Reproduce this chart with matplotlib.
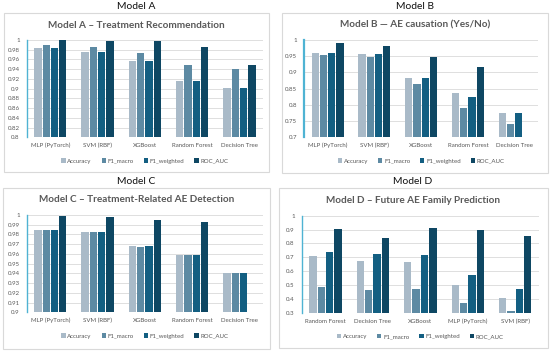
import matplotlib
matplotlib.use("Agg")
import matplotlib.pyplot as plt
from matplotlib.patches import Rectangle
from matplotlib.ticker import FuncFormatter, MultipleLocator
import numpy as np

plt.rcParams['font.family'] = ['Lato', 'DejaVu Sans']

series = ["Accuracy", "F1_macro", "F1_weighted", "ROC_AUC"]
colors = ["#A9BAC8", "#5D8AA3", "#135F82", "#0E4763"]

panel_titles = ["Model A", "Model B", "Model C", "Model D"]
chart_titles = ["Model A \u2013 Treatment Recommendation",
                "Model B \u2014 AE causation (Yes/No)",
                "Model C \u2013 Treatment-Related AE Detection",
                "Model D \u2013 Future AE Family Prediction"]

cats_A = ["MLP (PyTorch)", "SVM (RBF)", "XGBoost", "Random Forest", "Decision Tree"]
vals_A = {
    "Accuracy":    [0.983, 0.975, 0.956, 0.916, 0.901],
    "F1_macro":    [0.990, 0.985, 0.974, 0.949, 0.940],
    "F1_weighted": [0.983, 0.975, 0.956, 0.916, 0.901],
    "ROC_AUC":     [1.000, 0.997, 0.997, 0.986, 0.949],
}
cats_B = ["MLP (PyTorch)", "SVM (RBF)", "XGBoost", "Random Forest", "Decision Tree"]
vals_B = {
    "Accuracy":    [0.961, 0.957, 0.882, 0.837, 0.774],
    "F1_macro":    [0.955, 0.949, 0.863, 0.789, 0.741],
    "F1_weighted": [0.961, 0.957, 0.882, 0.825, 0.774],
    "ROC_AUC":     [0.992, 0.981, 0.947, 0.918, 0.702],
}
cats_C = ["MLP (PyTorch)", "SVM (RBF)", "XGBoost", "Random Forest", "Decision Tree"]
vals_C = {
    "Accuracy":    [0.9846, 0.9829, 0.9678, 0.9592, 0.9408],
    "F1_macro":    [0.9842, 0.9829, 0.9675, 0.9592, 0.9401],
    "F1_weighted": [0.9846, 0.9829, 0.9678, 0.9592, 0.9408],
    "ROC_AUC":     [0.9986, 0.9976, 0.9945, 0.9925, 0.9007],
}
cats_D = ["Random Forest", "Decision Tree", "XGBoost", "MLP (PyTorch)", "SVM (RBF)"]
vals_D = {
    "Accuracy":    [0.707, 0.672, 0.667, 0.504, 0.406],
    "F1_macro":    [0.487, 0.463, 0.475, 0.372, 0.314],
    "F1_weighted": [0.739, 0.724, 0.715, 0.576, 0.475],
    "ROC_AUC":     [0.902, 0.842, 0.914, 0.895, 0.856],
}
ylims = [(0.8, 1.0, 0.02), (0.7, 1.0, 0.05), (0.9, 1.0, 0.01), (0.3, 1.0, 0.1)]

W, H = 550, 351
fig = plt.figure(figsize=(W / 100, H / 100), dpi=100)

def fx(x): return x / W
def fy(y): return 1 - y / H

boxes = [(3.5, 12.7, 268.5, 171.7), (282.3, 12.7, 547.7, 172.7),
         (3.0, 187.7, 269.5, 348.5), (278.5, 188.0, 547.7, 347.5)]
axes_px = [(26.7, 40.0, 263.0, 137.3), (304.3, 40.0, 538.0, 137.3),
           (26.7, 215.0, 263.0, 312.3), (301.7, 215.7, 539.0, 313.0)]
all_cats = [cats_A, cats_B, cats_C, cats_D]
all_vals = [vals_A, vals_B, vals_C, vals_D]
txt = "#595959"

for i in range(4):
    bx0, by0, bx1, by1 = boxes[i]
    fig.patches.append(Rectangle((fx(bx0), fy(by1)), fx(bx1 - bx0), (by1 - by0) / H,
                                 transform=fig.transFigure, fill=False,
                                 edgecolor="#D9D9D9", lw=0.8))
    fig.text(fx((bx0 + bx1) / 2), fy(by0 - 6.2), panel_titles[i], ha="center",
             va="center", fontsize=7.4, color="#111111")
    fig.text(fx((bx0 + bx1) / 2), fy(by0 + 12.3), chart_titles[i], ha="center",
             va="center", fontsize=7.2, fontweight="bold", color=txt)

    ax0, at, ax1, ab = axes_px[i]
    ax = fig.add_axes([fx(ax0), fy(ab), fx(ax1 - ax0), (ab - at) / H])
    cats = all_cats[i]
    vals = all_vals[i]
    x = np.arange(len(cats))
    bw = 0.155
    step = 0.176
    for j, s in enumerate(series):
        ax.bar(x + (j - 1.5) * step, vals[s], width=bw, color=colors[j],
               label=s, zorder=3)
    lo, hi, st = ylims[i]
    ax.set_ylim(lo, hi)
    ax.set_xlim(-0.5, len(cats) - 0.5)
    ax.yaxis.set_major_locator(MultipleLocator(st))
    ax.yaxis.set_major_formatter(FuncFormatter(lambda v, p: "%g" % round(v, 4)))
    ax.grid(axis="y", color="#D9D9D9", lw=0.6, zorder=0)
    for sp in ["top", "right", "bottom"]:
        ax.spines[sp].set_visible(False)
    ax.spines["left"].set_color("#4FB3D3")
    ax.spines["left"].set_linewidth(1.0 if i != 1 else 1.6)
    ax.set_xticks(x)
    ax.set_xticklabels(cats)
    ax.tick_params(axis="both", length=0, labelsize=4.4, labelcolor=txt)
    ax.tick_params(axis="x", pad=4)
    ax.tick_params(axis="y", pad=5)
    ax.set_facecolor("none")
    leg = ax.legend(loc="center", bbox_to_anchor=(0.5, -23.7 / (ab - at)),
                    ncol=4, frameon=False, fontsize=4.4, handlelength=0.7,
                    handleheight=0.7, handletextpad=0.3, columnspacing=1.6)
    for t in leg.get_texts():
        t.set_color(txt)

fig.savefig("out.png", dpi=100)
